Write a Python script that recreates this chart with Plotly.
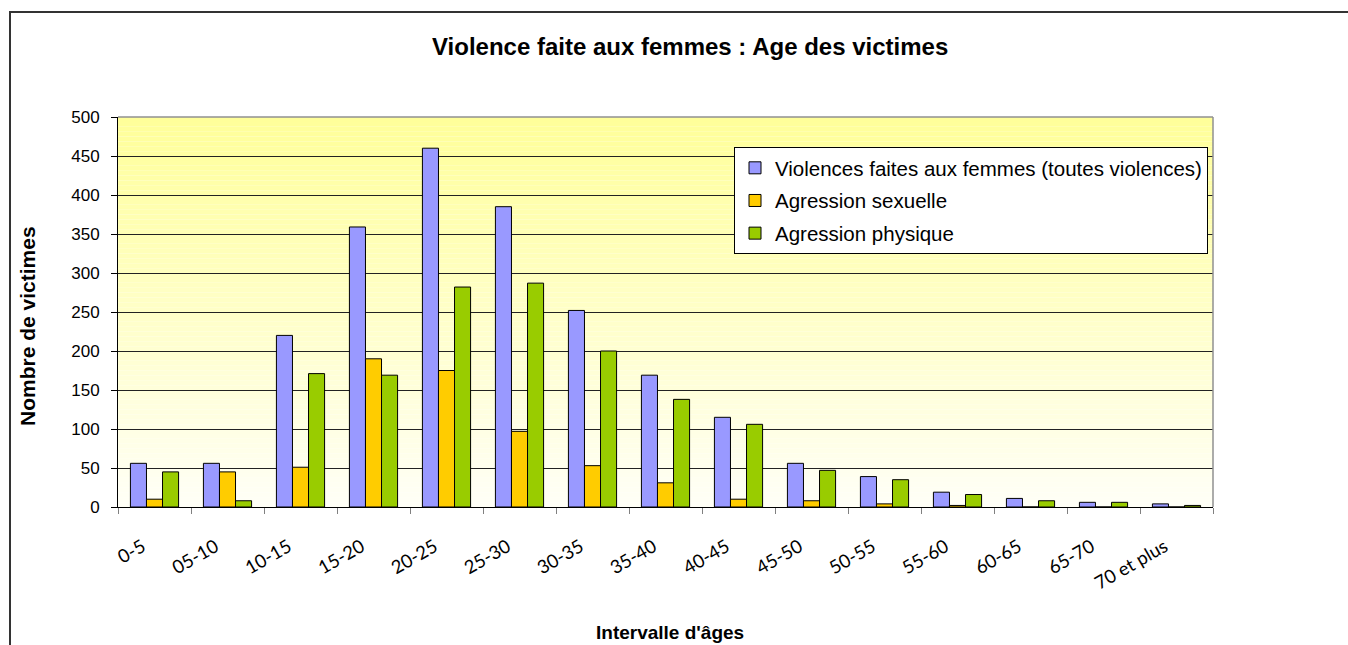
import plotly.graph_objects as go

categories = ["0-5", "05-10", "10-15", "15-20", "20-25", "25-30", "30-35", "35-40",
              "40-45", "45-50", "50-55", "55-60", "60-65", "65-70", "70 et plus"]
toutes = [56, 56, 220, 359, 460, 385, 252, 169, 115, 56, 39, 19, 11, 6, 4]
sexuelle = [10, 45, 51, 190, 175, 97, 53, 31, 10, 8, 4, 2, 0, 0, 0]
physique = [45, 8, 171, 169, 282, 287, 200, 138, 106, 47, 35, 16, 8, 6, 2]

series_names = ["Violences faites aux femmes (toutes violences)",
                "Agression sexuelle", "Agression physique"]
series_values = [toutes, sexuelle, physique]
series_colors = ["#9999FF", "#FFCC00", "#99CC00"]

fig = go.Figure()
for name, vals, col in zip(series_names, series_values, series_colors):
    fig.add_bar(x=categories, y=vals, name=name, legendgroup=name,
                marker=dict(color=col, line=dict(color="black", width=1)))

# plot-area vertical gradient (pale yellow top -> near white bottom)
shapes = []
n = 80
top = (255, 255, 153)
bot = (255, 255, 247)
for i in range(n):
    t = (i + 0.5) / n
    c = tuple(round(bot[k] + (top[k] - bot[k]) * t) for k in range(3))
    shapes.append(dict(type="rect", xref="x domain", yref="y domain",
                       x0=0, x1=1, y0=i / n, y1=(i + 1) / n,
                       fillcolor="rgb(%d,%d,%d)" % c, line=dict(width=0),
                       layer="below"))
# gray frame top / right
shapes.append(dict(type="line", xref="paper", yref="paper", x0=0, x1=1, y0=1, y1=1,
                   line=dict(color="#909090", width=1.5), layer="above"))
shapes.append(dict(type="line", xref="paper", yref="paper", x0=1, x1=1, y0=0, y1=1,
                   line=dict(color="#909090", width=1.5), layer="above"))
# chart outer border (cut off at right and bottom)
shapes.append(dict(type="rect", xref="paper", yref="paper",
                   x0=(10 - 118) / 1095, x1=1.3, y0=-0.6, y1=(507 - 12) / 390,
                   line=dict(color="#333333", width=2), fillcolor="rgba(0,0,0,0)",
                   layer="above"))

fig.update_layout(
    width=1348, height=645,
    margin=dict(l=118, r=135, t=117, b=138),
    paper_bgcolor="white", plot_bgcolor="white",
    barmode="group", bargap=0.34, bargroupgap=0,
    showlegend=True,
    legend=dict(x=(734 - 118) / 1095, y=(507 - 147) / 390, xanchor="left", yanchor="top",
                bgcolor="white", bordercolor="black", borderwidth=1,
                font=dict(family="Arial", size=20.5, color="black"),
                tracegroupgap=3, traceorder="grouped"),
    shapes=shapes,
    font=dict(family="Arial", color="black"),
    xaxis=dict(type="category", tickson="boundaries", ticks="outside", ticklen=6,
               tickcolor="#808080", showline=True, linecolor="black", linewidth=1,
               tickangle=-30, tickfont=dict(family="Lato", size=18.5, color="black"),
               ticklabelstandoff=21, ticklabelshift=-12,
               showgrid=False, zeroline=False),
    yaxis=dict(range=[0, 500], dtick=50, ticks="outside", ticklen=6, tickcolor="black",
               showline=True, linecolor="black", linewidth=1,
               gridcolor="#222222", gridwidth=1, zeroline=False,
               tickfont=dict(family="Arial", size=17, color="black"),
               ticklabelstandoff=8),
    annotations=[
        dict(text="<b>Violence faite aux femmes : Age des victimes</b>",
             xref="paper", yref="paper", x=(690 - 118) / 1095, y=(507 - 47) / 390,
             xanchor="center", yanchor="middle", showarrow=False,
             font=dict(family="Arial", size=24, color="black")),
        dict(text="<b>Intervalle d'âges</b>",
             xref="paper", yref="paper", x=(670 - 118) / 1095, y=(507 - 632) / 390,
             xanchor="center", yanchor="middle", showarrow=False,
             font=dict(family="Arial", size=19, color="black")),
        dict(text="<b>Nombre de victimes</b>", textangle=-90,
             xref="paper", yref="paper", x=(27 - 118) / 1095, y=(507 - 326) / 390,
             xanchor="center", yanchor="middle", showarrow=False,
             font=dict(family="Arial", size=21, color="black")),
    ],
)

fig.write_html("out.html", config={"displayModeBar": False},
               post_script="document.body.style.margin='0px';document.body.style.overflow='hidden';")
